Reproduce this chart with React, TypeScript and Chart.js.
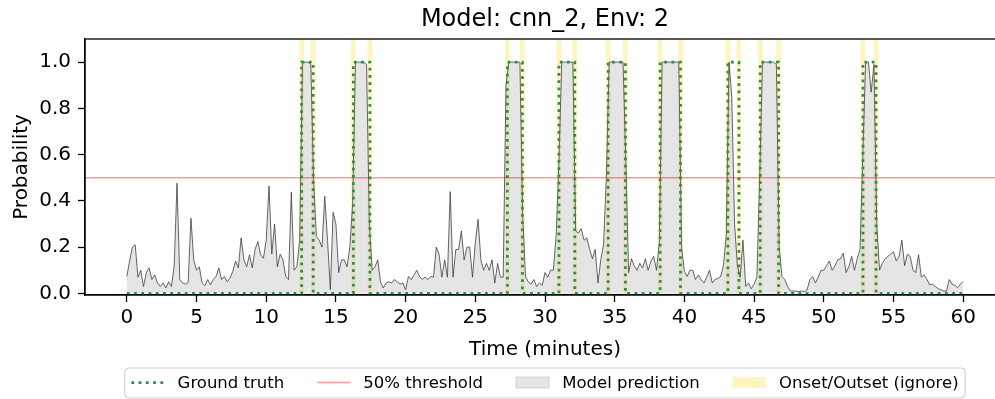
import React, { useEffect, useRef } from "react";
import { Chart, registerables } from "chart.js";

Chart.register(...registerables);

const TITLE = "Model: cnn_2, Env: 2";
const X_LABEL = "Time (minutes)";
const Y_LABEL = "Probability";

// prediction sampled every 0.2 minutes, from 0 to 60
const TIME_STEP = 0.2;
const PREDICTION = [
  0.073, 0.14, 0.2, 0.21, 0.07, 0.1, 0.03, 0.09, 0.11, 0.06,
  0.08, 0.045, 0.03, 0.045, 0.023, 0.05, 0.03, 0.12, 0.476, 0.06,
  0.045, 0.04, 0.047, 0.325, 0.145, 0.1, 0.115, 0.045, 0.033, 0.06,
  0.037, 0.06, 0.073, 0.11, 0.06, 0.073, 0.05, 0.066, 0.095, 0.14,
  0.11, 0.24, 0.145, 0.115, 0.167, 0.11, 0.19, 0.224, 0.167, 0.152,
  0.23, 0.464, 0.17, 0.3, 0.115, 0.17, 0.145, 0.073, 0.06, 0.437,
  0.1, 0.115, 0.23, 1.0, 1.0, 1.0, 0.99, 0.49, 0.245, 0.23,
  0.2, 0.42, 0.23, 0.016, 0.35, 0.3, 0.09, 0.145, 0.145, 0.115,
  0.2, 0.39, 1.0, 1.0, 1.0, 1.0, 0.99, 0.3, 0.1, 0.115,
  0.145, 0.05, 0.023, 0.045, 0.05, 0.045, 0.06, 0.05, 0.04, 0.045,
  0.016, 0.073, 0.06, 0.08, 0.1, 0.073, 0.06, 0.07, 0.06, 0.073,
  0.07, 0.2, 0.17, 0.07, 0.145, 0.07, 0.44, 0.07, 0.19, 0.19,
  0.27, 0.145, 0.2, 0.2, 0.07, 0.22, 0.32, 0.145, 0.1, 0.13,
  0.1, 0.145, 0.045, 0.13, 0.07, 0.07, 0.9, 1.0, 1.0, 1.0,
  1.0, 1.0, 0.34, 0.073, 0.05, 0.04, 0.06, 0.03, 0.045, 0.035,
  0.09, 0.07, 0.1, 0.1, 0.25, 0.57, 1.0, 1.0, 1.0, 1.0,
  1.0, 0.27, 0.26, 0.28, 0.23, 0.24, 0.19, 0.15, 0.19, 0.045,
  0.145, 0.21, 0.5, 1.0, 1.0, 1.0, 1.0, 1.0, 1.0, 0.57,
  0.09, 0.15, 0.12, 0.1, 0.13, 0.11, 0.15, 0.1, 0.14, 0.16,
  0.1, 0.22, 1.0, 1.0, 1.0, 1.0, 1.0, 1.0, 1.0, 0.2,
  0.095, 0.073, 0.1, 0.1, 0.06, 0.08, 0.06, 0.045, 0.07, 0.1,
  0.045, 0.06, 0.065, 0.073, 0.12, 0.25, 1.0, 0.85, 0.3, 0.12,
  0.07, 0.23, 0.03, 0.045, 0.02, 0.04, 0.07, 0.5, 1.0, 1.0,
  1.0, 1.0, 1.0, 0.99, 0.2, 0.073, 0.06, 0.03, 0.01, 0.01,
  0.01, 0.008, 0.01, 0.008, 0.015, 0.06, 0.073, 0.045, 0.07, 0.1,
  0.1, 0.12, 0.14, 0.1, 0.12, 0.145, 0.15, 0.174, 0.09, 0.116,
  0.16, 0.1, 0.15, 0.19, 0.6, 1.0, 1.0, 0.87, 0.99, 0.3,
  0.1, 0.13, 0.15, 0.16, 0.17, 0.18, 0.14, 0.16, 0.23, 0.12,
  0.17, 0.16, 0.1, 0.09, 0.167, 0.07, 0.08, 0.06, 0.037, 0.04,
  0.03, 0.02, 0.016, 0.01, 0.01, 0.06, 0.04, 0.035, 0.025, 0.04,
  0.052,
];

// ground-truth events (minutes)
const ONSETS = [12.54, 16.25, 27.3, 31.0, 34.53, 38.26, 43.12, 45.44, 52.81];
const OFFSETS = [13.37, 17.44, 28.38, 32.14, 35.77, 39.72, 43.91, 46.76, 53.75];
const GT_START = 0;
const GT_END = 60;
const BAND_HALF = 0.17;

const THRESHOLD = 0.5;
const X_TICKS = [0, 5, 10, 15, 20, 25, 30, 35, 40, 45, 50, 55, 60];
const Y_TICKS = [0, 0.2, 0.4, 0.6, 0.8, 1.0];
const X_MIN = -3;
const X_MAX = 63;
const Y_MIN = -0.007;
const Y_MAX = 1.1;

const LEGEND_LABELS = ["Ground truth", "50% threshold", "Model prediction", "Onset/Outset (ignore)"];

const FONT = "'DejaVu Sans', sans-serif";
const GREEN = "#2e8b57";
const RED = "rgba(255,0,0,0.4)";
const FILL = "rgba(190,190,190,0.4)";
const BAND = "rgba(255,215,0,0.25)";
const DOT = [2.75, 4.5];

export default function App() {
  const ref = useRef<HTMLCanvasElement | null>(null);

  useEffect(() => {
    const canvas = ref.current;
    if (!canvas) return;

    const predData = PREDICTION.map((v, i) => ({ x: +(i * TIME_STEP).toFixed(2), y: v }));
    const gtData: { x: number; y: number }[] = [{ x: GT_START, y: 0 }];
    ONSETS.forEach((on, i) => {
      gtData.push({ x: on, y: 0 }, { x: on, y: 1 }, { x: OFFSETS[i], y: 1 }, { x: OFFSETS[i], y: 0 });
    });
    gtData.push({ x: GT_END, y: 0 });
    const thrData = [{ x: X_MIN, y: THRESHOLD }, { x: X_MAX, y: THRESHOLD }];

    const bandsPlugin = {
      id: "bands",
      beforeDatasetsDraw(chart: any) {
        const { ctx, chartArea } = chart;
        const xs = chart.scales.x;
        ctx.save();
        ctx.fillStyle = BAND;
        [...ONSETS, ...OFFSETS].forEach((t) => {
          const a = xs.getPixelForValue(t - BAND_HALF);
          const b = xs.getPixelForValue(t + BAND_HALF);
          ctx.fillRect(a, chartArea.top, b - a, chartArea.bottom - chartArea.top);
        });
        ctx.restore();
      },
    };

    const decorPlugin = {
      id: "decor",
      afterDraw(chart: any) {
        const { ctx, chartArea } = chart;
        const cx = (chartArea.left + chartArea.right) / 2;
        ctx.save();
        // frame
        ctx.strokeStyle = "#000";
        ctx.lineWidth = 1.3;
        ctx.strokeRect(chartArea.left, chartArea.top, chartArea.right - chartArea.left, chartArea.bottom - chartArea.top);
        // title
        ctx.fillStyle = "#000";
        ctx.textAlign = "center";
        ctx.textBaseline = "alphabetic";
        ctx.font = `24px ${FONT}`;
        ctx.fillText(TITLE, cx, 25.5);
        // axis labels
        ctx.font = `20px ${FONT}`;
        ctx.fillText(X_LABEL, cx, 355);
        ctx.save();
        ctx.translate(27, (chartArea.top + chartArea.bottom) / 2);
        ctx.rotate(-Math.PI / 2);
        ctx.fillText(Y_LABEL, 0, 0);
        ctx.restore();

        // legend
        const fs = 16.5;
        ctx.font = `${fs}px ${FONT}`;
        const handle = 2 * fs;
        const hpad = 0.8 * fs;
        const colsp = 2 * fs;
        const bpad = 0.4 * fs;
        const widths = LEGEND_LABELS.map((t) => ctx.measureText(t).width);
        const total = widths.reduce((s, w) => s + handle + hpad + w, 0) + colsp * (LEGEND_LABELS.length - 1) + 2 * bpad;
        const bx = cx - total / 2;
        const by = 368;
        const bh = 30;
        ctx.beginPath();
        ctx.roundRect(bx, by, total, bh, 4);
        ctx.fillStyle = "rgba(255,255,255,0.8)";
        ctx.fill();
        ctx.strokeStyle = "#cccccc";
        ctx.lineWidth = 1;
        ctx.stroke();
        const my = by + bh / 2 - 0.5;
        let x = bx + bpad;
        LEGEND_LABELS.forEach((label, i) => {
          if (i === 0) {
            ctx.save();
            ctx.strokeStyle = GREEN;
            ctx.lineWidth = 2.75;
            ctx.setLineDash(DOT);
            ctx.beginPath();
            ctx.moveTo(x, my);
            ctx.lineTo(x + handle, my);
            ctx.stroke();
            ctx.restore();
          } else if (i === 1) {
            ctx.strokeStyle = RED;
            ctx.lineWidth = 1.4;
            ctx.beginPath();
            ctx.moveTo(x, my);
            ctx.lineTo(x + handle, my);
            ctx.stroke();
          } else if (i === 2) {
            ctx.fillStyle = FILL;
            ctx.fillRect(x, my - 5.5, handle, 11);
            ctx.strokeStyle = "rgba(150,150,150,0.35)";
            ctx.lineWidth = 1;
            ctx.strokeRect(x, my - 5.5, handle, 11);
          } else {
            ctx.fillStyle = BAND;
            ctx.fillRect(x, my - 5.5, handle, 11);
          }
          x += handle + hpad;
          ctx.fillStyle = "#000";
          ctx.textAlign = "left";
          ctx.textBaseline = "alphabetic";
          ctx.fillText(label, x, my + 5.5);
          x += widths[i] + colsp;
        });
        ctx.restore();
      },
    };

    const chart = new Chart(canvas, {
      type: "line",
      data: {
        datasets: [
          {
            label: LEGEND_LABELS[0],
            data: gtData,
            borderColor: GREEN,
            borderWidth: 2.75,
            borderDash: DOT,
            borderCapStyle: "butt",
            pointRadius: 0,
            fill: false,
            tension: 0,
            order: 1,
          },
          {
            label: LEGEND_LABELS[1],
            data: thrData,
            borderColor: RED,
            borderWidth: 1.4,
            pointRadius: 0,
            fill: false,
            order: 2,
          },
          {
            label: LEGEND_LABELS[2],
            data: predData,
            borderColor: "rgba(55,55,55,0.85)",
            borderWidth: 0.9,
            backgroundColor: FILL,
            pointRadius: 0,
            fill: "origin",
            tension: 0,
            order: 3,
          },
        ],
      },
      options: {
        animation: false,
        responsive: false,
        devicePixelRatio: 1,
        layout: { padding: { top: 39, left: 0, right: 2, bottom: 38 } },
        plugins: {
          legend: { display: false },
          title: { display: false },
          tooltip: { enabled: false },
        },
        scales: {
          x: {
            type: "linear",
            min: X_MIN,
            max: X_MAX,
            afterFit: (s: any) => {
              s.height = 66;
            },
            afterBuildTicks: (s: any) => {
              s.ticks = X_TICKS.map((v) => ({ value: v }));
            },
            ticks: {
              color: "#000",
              padding: 4,
              maxRotation: 0,
              autoSkip: false,
              font: { family: FONT, size: 20 },
              callback: (v: any) => String(v),
            },
            grid: { drawOnChartArea: false, drawTicks: true, tickLength: 7, tickWidth: 1.3, tickColor: "#000" },
            border: { display: true, color: "#000", width: 1.3 },
          },
          y: {
            type: "linear",
            min: Y_MIN,
            max: Y_MAX,
            afterFit: (s: any) => {
              s.width = 85;
            },
            afterBuildTicks: (s: any) => {
              s.ticks = Y_TICKS.map((v) => ({ value: v }));
            },
            ticks: {
              color: "#000",
              padding: 7,
              autoSkip: false,
              font: { family: FONT, size: 20 },
              callback: (v: any) => Number(v).toFixed(1),
            },
            grid: { drawOnChartArea: false, drawTicks: true, tickLength: 7, tickWidth: 1.3, tickColor: "#000" },
            border: { display: true, color: "#000", width: 1.3 },
          },
        },
      },
      plugins: [bandsPlugin, decorPlugin],
    });

    return () => chart.destroy();
  }, []);

  return (
    <div style={{ position: "fixed", left: 0, top: 0, width: 995, height: 399, overflow: "hidden", background: "#fff" }}>
      <canvas ref={ref} width={1007} height={399} style={{ display: "block", width: 1007, height: 399 }} />
    </div>
  );
}
